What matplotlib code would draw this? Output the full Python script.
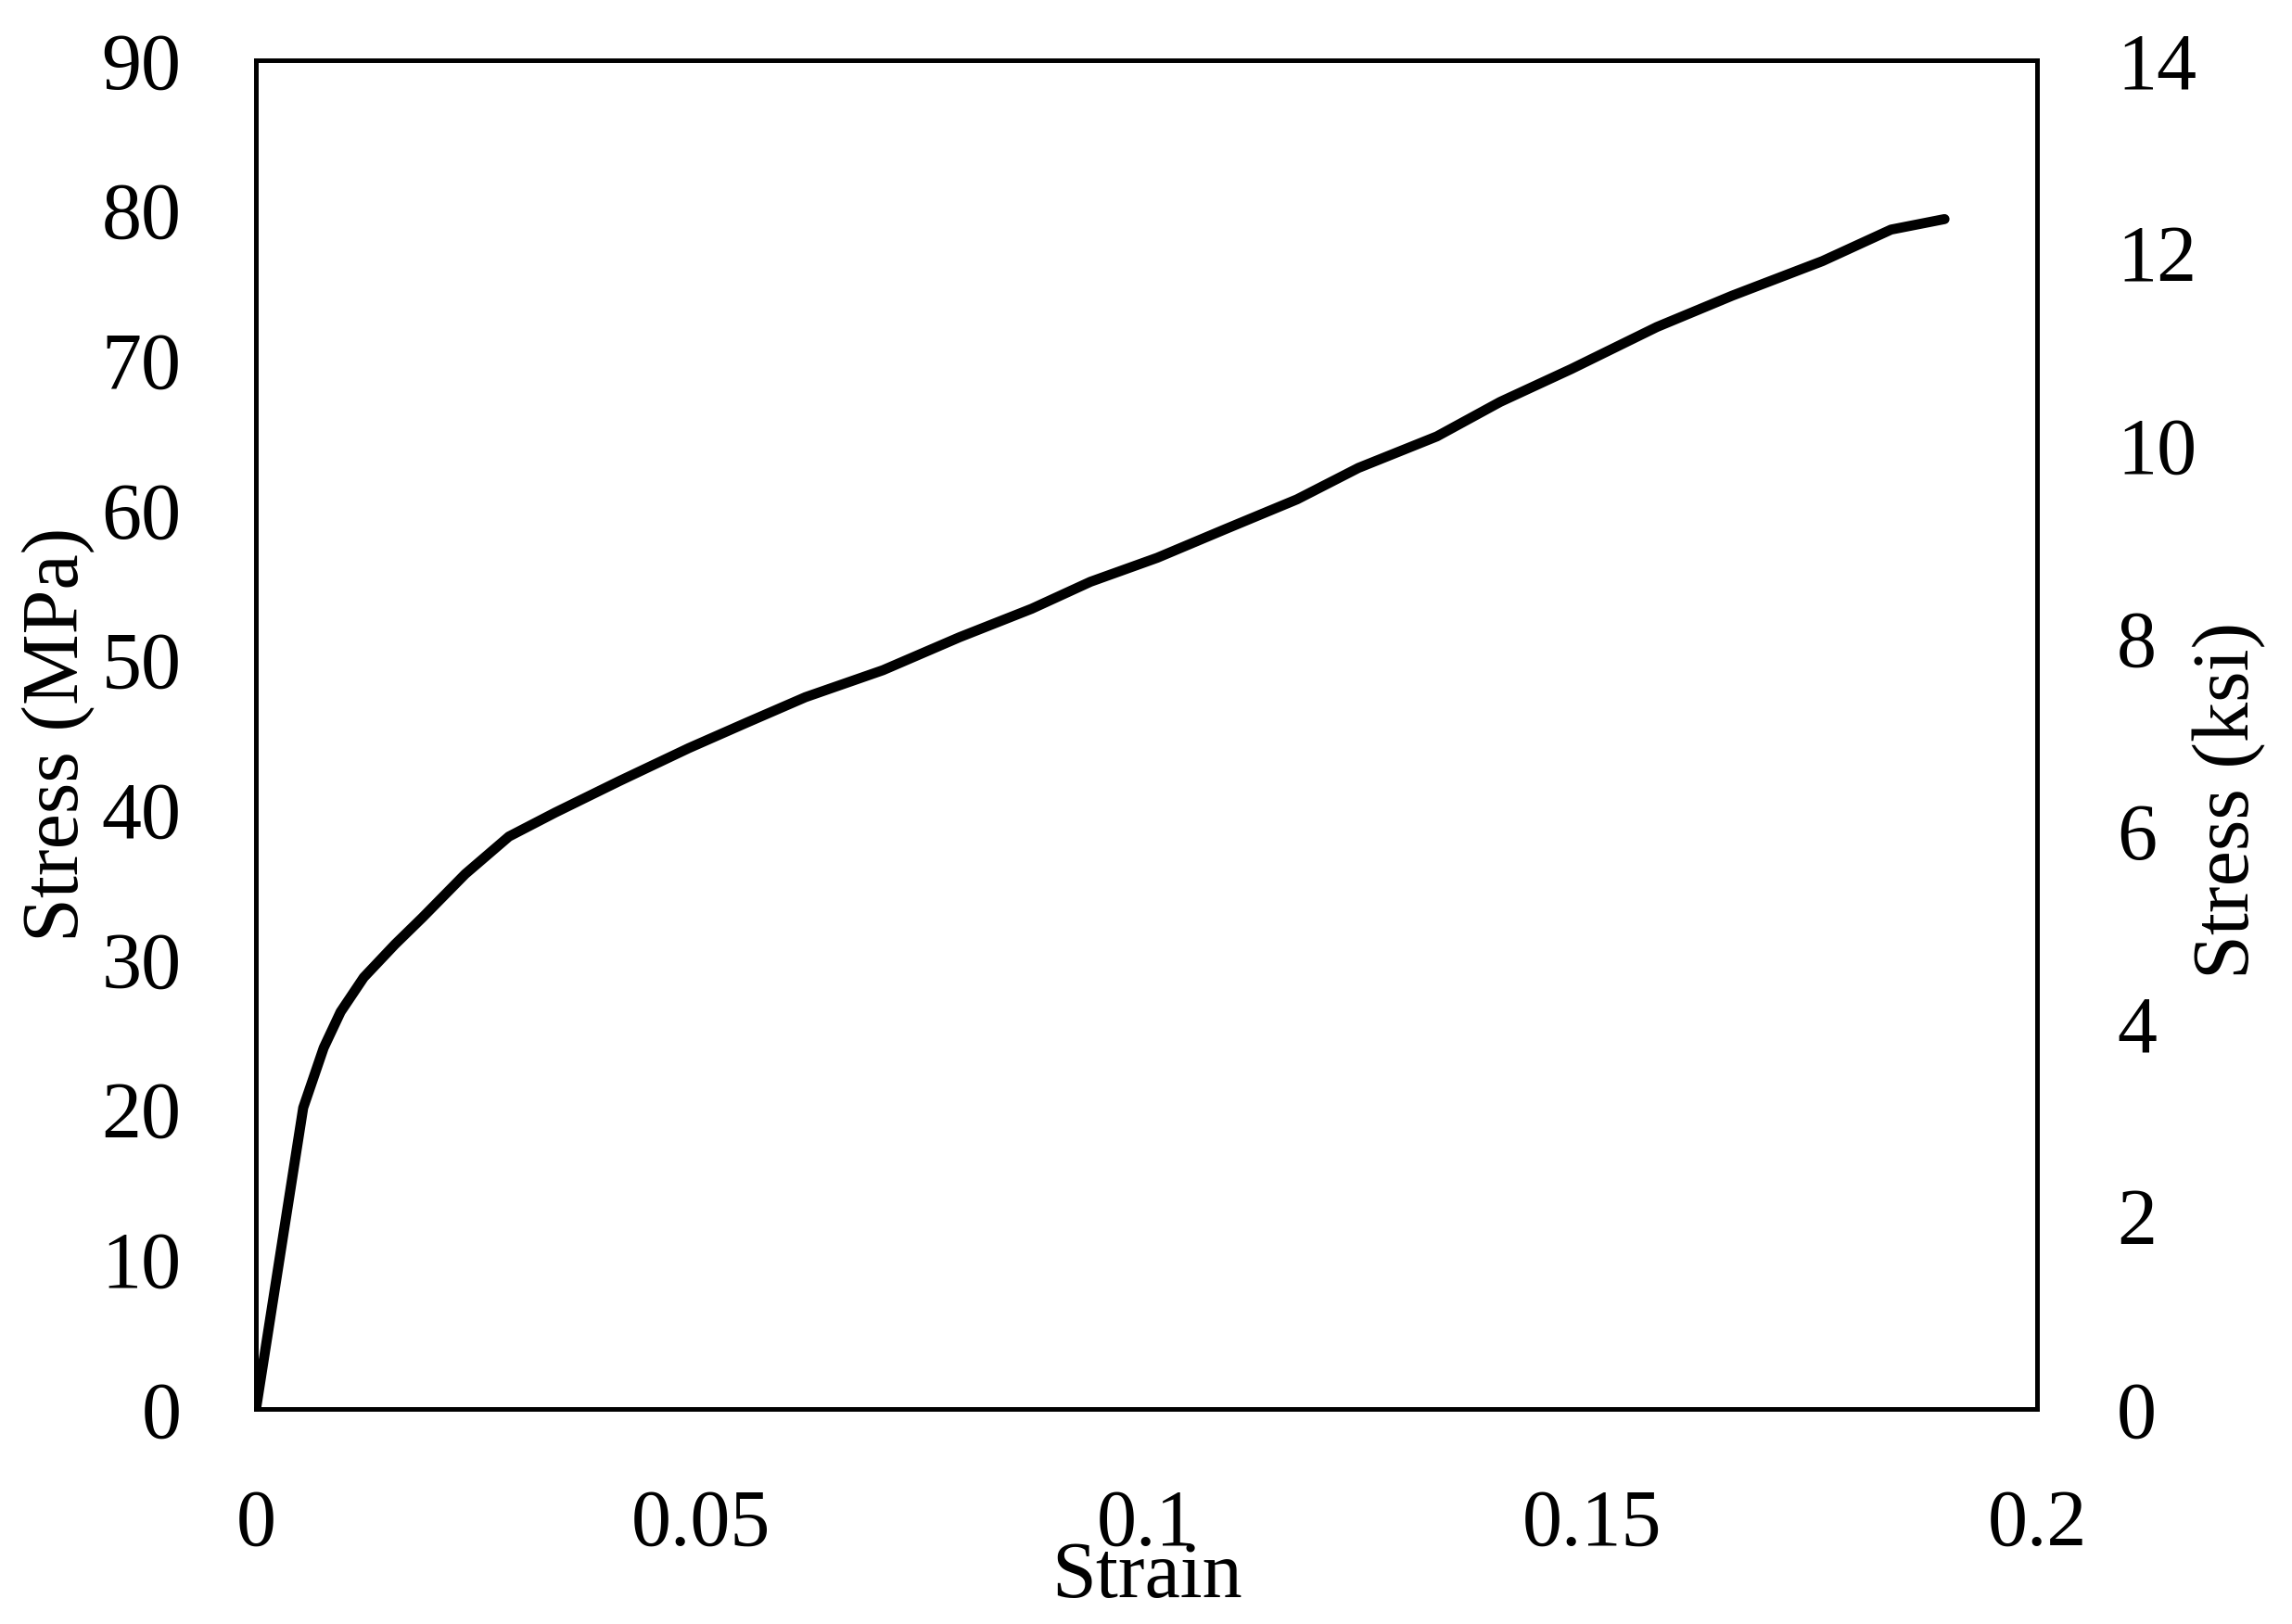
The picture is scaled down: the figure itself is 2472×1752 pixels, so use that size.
import matplotlib.pyplot as plt

# stress-strain curve
strain = [0, 0.0053, 0.0076, 0.0095, 0.0121, 0.0156, 0.0187, 0.0235, 0.0284, 0.0336,
          0.0408, 0.0486, 0.0551, 0.0617, 0.0704, 0.079, 0.0871, 0.0937, 0.1012, 0.1088,
          0.1169, 0.1238, 0.1326, 0.1397, 0.1477, 0.1573, 0.1658, 0.1759, 0.1836, 0.1896]
stress_mpa = [0, 20.1, 24.1, 26.5, 28.8, 31.0, 32.8, 35.7, 38.2, 39.8,
              41.9, 44.1, 45.8, 47.5, 49.3, 51.5, 53.4, 55.2, 56.8, 58.7,
              60.7, 62.8, 64.9, 67.2, 69.4, 72.2, 74.3, 76.6, 78.7, 79.4]

x_ticks = [0, 0.05, 0.1, 0.15, 0.2]
x_labels = ["0", "0.05", "0.1", "0.15", "0.2"]
mpa_ticks = list(range(0, 91, 10))
ksi_ticks = list(range(0, 15, 2))

plt.rcParams['font.family'] = ['Liberation Serif', 'DejaVu Serif']
fs = 62

fig = plt.figure(figsize=(24.72, 17.52), dpi=100)
ax = fig.add_axes([0.1117, 0.1324, 0.7771, 0.8305])
ax.plot(strain, stress_mpa, color='black', linewidth=7.8, solid_capstyle='round',
        solid_joinstyle='round')
ax.set_xlim(0, 0.2)
ax.set_ylim(0, 90)
ax.set_xticks(x_ticks)
ax.set_xticklabels(x_labels)
ax.set_yticks(mpa_ticks)
ax.tick_params(axis='both', length=0, labelsize=fs)
ax.tick_params(axis='x', pad=62)
ax.tick_params(axis='y', pad=58)
for s in ax.spines.values():
    s.set_linewidth(3.4)

ax.set_xlabel("Strain", fontsize=fs)
ax.xaxis.set_label_coords(0.5, -0.125)
ax.xaxis.label.set_va('center')
ax.set_ylabel("Stress (MPa)", fontsize=fs)
ax.yaxis.set_label_coords(-0.111, 0.5)
ax.yaxis.label.set_va('center')

ax2 = ax.twinx()
ax2.set_ylim(0, 14)
ax2.set_yticks(ksi_ticks)
ax2.tick_params(axis='y', length=0, labelsize=fs, pad=62)
for s in ax2.spines.values():
    s.set_linewidth(3.4)
ax2.set_ylabel("Stress (ksi)", fontsize=fs)
ax2.yaxis.set_label_coords(1.108, 0.451)
ax2.yaxis.label.set_va('center')

fig.savefig("out.png", dpi=100)
